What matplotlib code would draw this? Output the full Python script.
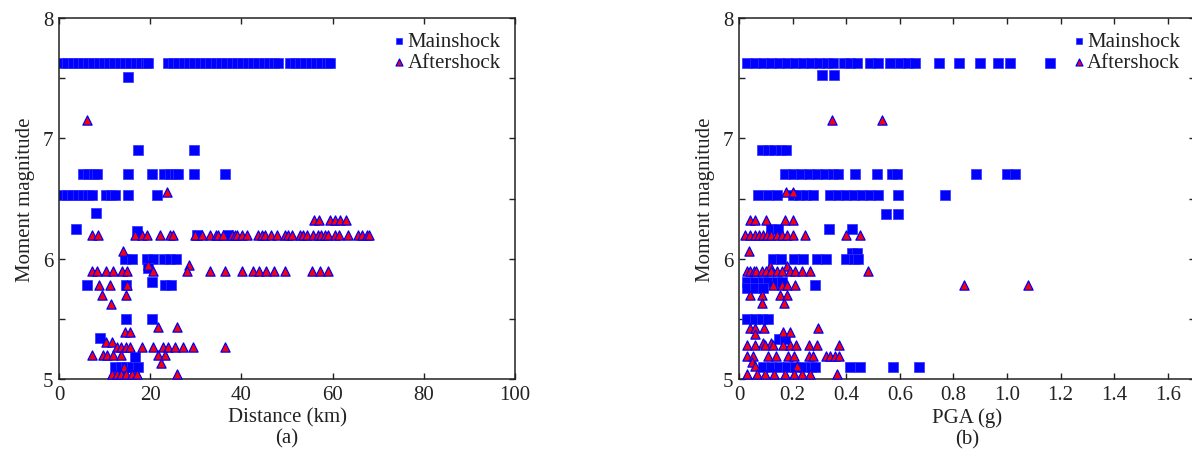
import matplotlib
matplotlib.use("Agg")
import matplotlib.pyplot as plt

plt.rcParams["font.family"] = ["Liberation Serif", "DejaVu Serif"]
plt.rcParams["mathtext.fontset"] = "stix"

# ---------------- (a) magnitude vs. distance ----------------
# mainshock records: magnitude levels and the distances (km) at each level
a_main_mag = [7.63, 7.51, 6.9, 6.7, 6.53, 6.38, 6.25, 6.23, 6.2, 6.0, 5.92,
              5.81, 5.78, 5.5, 5.34, 5.18, 5.1]
a_main_dist = [
    [0.6, 1.8, 3.0, 4.1, 5.3, 6.4, 7.5, 8.7, 9.8, 11.0, 12.1, 13.3, 14.4,
     15.6, 16.8, 17.9, 19.1, 19.6, 23.8, 25.0, 26.2, 27.4, 28.5, 29.7, 30.9,
     32.0, 33.2, 34.4, 35.5, 36.7, 37.9, 39.0, 40.2, 41.4, 42.5, 43.7, 44.9,
     46.0, 47.2, 48.0, 50.6, 51.7, 52.9, 54.0, 55.2, 56.4, 57.5, 58.7, 59.4],
    [15.1],
    [17.4, 29.7],
    [5.2, 6.4, 7.6, 8.3, 15.2, 20.3, 23.1, 24.4, 25.5, 26.2, 29.7, 36.3],
    [0.5, 1.7, 2.9, 4.1, 5.3, 6.4, 7.3, 10.4, 11.4, 12.2, 15.1, 21.5],
    [8.1],
    [3.7],
    [17.1],
    [30.2, 37.1],
    [14.5, 16.1, 19.3, 20.6, 23.1, 24.4, 25.6],
    [19.6],
    [20.3],
    [6.1, 14.8, 23.3, 24.6],
    [14.7, 20.5],
    [9.0],
    [16.7],
    [12.2, 13.5, 14.8, 16.1, 17.4],
]

# aftershock records
a_after_mag = [7.15, 6.55, 6.32, 6.2, 6.06, 5.95, 5.9, 5.78, 5.7, 5.62, 5.43,
               5.39, 5.31, 5.27, 5.2, 5.13, 5.1, 5.04]
a_after_dist = [
    [6.2],
    [23.6],
    [56.0, 57.0, 59.4, 60.5, 61.6, 62.9],
    [7.2, 8.6, 16.7, 18.1, 19.4, 22.1, 24.3, 25.1, 29.8, 31.3, 33.1, 34.4,
     34.9, 36.0, 37.9, 38.5, 39.0, 40.1, 41.2, 43.7, 44.5, 45.2, 46.5, 47.7,
     49.6, 50.3, 51.0, 52.9, 53.6, 54.3, 55.8, 56.9, 57.5, 58.3, 59.0, 60.5,
     61.5, 63.3, 65.6, 66.5, 67.5, 68.0],
    [14.0],
    [19.6, 28.4],
    [7.2, 8.3, 10.2, 11.9, 13.8, 14.9, 20.7, 28.0, 33.2, 36.5, 40.1, 42.5,
     43.9, 45.5, 47.1, 49.6, 55.4, 57.2, 59.1],
    [8.8, 11.2, 14.9],
    [9.4, 14.6],
    [11.4],
    [21.8, 25.8],
    [14.5, 15.6],
    [10.4, 11.7],
    [12.7, 13.5, 14.8, 15.6, 18.1, 20.7, 22.9, 23.8, 25.4, 27.1, 29.4, 36.4],
    [7.2, 9.7, 10.6, 11.9, 13.7, 21.8, 23.2],
    [22.4],
    [14.3],
    [11.6, 12.7, 13.7, 14.8, 15.9, 17.0, 25.8],
]

# ---------------- (b) magnitude vs. PGA ----------------
b_main_mag = [7.63, 7.53, 6.9, 6.7, 6.53, 6.375, 6.25, 6.05, 6.0, 5.81, 5.78,
              5.76, 5.5, 5.33, 5.1]
b_main_pga = [
    [0.03, 0.06, 0.09, 0.12, 0.15, 0.18, 0.21, 0.24, 0.27, 0.30, 0.33, 0.35,
     0.39, 0.415, 0.44, 0.49, 0.52, 0.565, 0.60, 0.63, 0.655, 0.745, 0.82,
     0.90, 0.965, 1.01, 1.16],
    [0.31, 0.355],
    [0.086, 0.11, 0.13, 0.155, 0.175],
    [0.17, 0.20, 0.23, 0.26, 0.29, 0.32, 0.35, 0.37, 0.433, 0.515, 0.57,
     0.59, 0.885, 1.0, 1.03],
    [0.072, 0.11, 0.14, 0.20, 0.225, 0.25, 0.275, 0.34, 0.37, 0.40, 0.43,
     0.46, 0.49, 0.52, 0.594, 0.77],
    [0.55, 0.595],
    [0.12, 0.145, 0.337, 0.42],
    [0.42, 0.44],
    [0.125, 0.155, 0.205, 0.24, 0.29, 0.325, 0.40, 0.43, 0.445],
    [0.03, 0.06, 0.09, 0.11, 0.14, 0.16],
    [0.284],
    [0.03, 0.06, 0.09],
    [0.03, 0.06, 0.085, 0.11],
    [0.15, 0.17],
    [0.09, 0.12, 0.15, 0.18, 0.21, 0.24, 0.27, 0.285, 0.414, 0.45, 0.576,
     0.672],
]

b_after_mag = [7.15, 6.55, 6.32, 6.2, 6.06, 5.94, 5.9, 5.78, 5.7, 5.63, 5.42,
               5.39, 5.375, 5.3, 5.28, 5.19, 5.14, 5.11, 5.04]
b_after_pga = [
    [0.346, 0.532],
    [0.175, 0.20],
    [0.041, 0.06, 0.10, 0.17, 0.20],
    [0.022, 0.041, 0.06, 0.075, 0.09, 0.105, 0.12, 0.14, 0.16, 0.18, 0.20,
     0.246, 0.40, 0.45],
    [0.037],
    [0.115, 0.18],
    [0.03, 0.04, 0.055, 0.065, 0.085, 0.10, 0.12, 0.14, 0.16, 0.19, 0.21,
     0.235, 0.265, 0.48],
    [0.128, 0.16, 0.18, 0.21, 0.84, 1.08],
    [0.04, 0.085, 0.153, 0.178],
    [0.087, 0.169],
    [0.04, 0.06, 0.095, 0.296],
    [0.165, 0.19],
    [0.06],
    [0.09, 0.12],
    [0.03, 0.06, 0.097, 0.128, 0.165, 0.19, 0.213, 0.26, 0.29, 0.374],
    [0.03, 0.053, 0.107, 0.137, 0.182, 0.206, 0.26, 0.277, 0.323, 0.34,
     0.358, 0.373],
    [0.047],
    [0.06, 0.215],
    [0.03, 0.066, 0.098, 0.132, 0.172, 0.205, 0.236, 0.264, 0.365],
]

y_ticks = [5, 5.5, 6, 6.5, 7, 7.5, 8]
y_tick_labels = ["5", "", "6", "", "7", "", "8"]
a_x_ticks = [0, 20, 40, 60, 80, 100]
b_x_ticks = [0, 0.2, 0.4, 0.6, 0.8, 1.0, 1.2, 1.4, 1.6]
b_x_tick_labels = ["0", "0.2", "0.4", "0.6", "0.8", "1.0", "1.2", "1.4", "1.6"]


def flatten(levels, groups):
    xs, ys = [], []
    for m, vals in zip(levels, groups):
        for v in vals:
            xs.append(v)
            ys.append(m)
    return xs, ys


BLUE = "#0000ff"
RED = "#ff0000"
INK = "#222222"
FS = 15


def draw(ax, main_x, main_y, after_x, after_y):
    ax.scatter(main_x, main_y, marker="s", s=44, facecolor=BLUE,
               edgecolor="#3030ff", linewidths=0.5, label="Mainshock", zorder=2)
    ax.scatter(after_x, after_y, marker="^", s=44, facecolor=RED,
               edgecolor=BLUE, linewidths=0.9, label="Aftershock", zorder=3)
    ax.set_ylim(5, 8)
    ax.set_yticks(y_ticks)
    ax.set_yticklabels(y_tick_labels)
    ax.set_ylabel("Moment magnitude", fontsize=FS, labelpad=6, color=INK)
    ax.tick_params(direction="in", top=True, right=True, length=4.5,
                   width=1.0, labelsize=FS, pad=4, colors=INK)
    for sp in ax.spines.values():
        sp.set_linewidth(1.1)
        sp.set_color(INK)
    leg = ax.legend(loc="upper right", frameon=False, fontsize=FS,
                    handlelength=0.6, handletextpad=0.1, labelspacing=0.08,
                    borderaxespad=0.25, markerscale=0.75,
                    bbox_to_anchor=(0.998, 1.0))
    for t in leg.get_texts():
        t.set_color(INK)


fig = plt.figure(figsize=(11.92, 4.52), dpi=100)
ax_a = fig.add_axes([59 / 1192, 72 / 452, 456 / 1192, 361 / 452])
ax_b = fig.add_axes([739 / 1192, 72 / 452, 455.6 / 1192, 361 / 452])

mx, my = flatten(a_main_mag, a_main_dist)
ax_, ay = flatten(a_after_mag, a_after_dist)
draw(ax_a, mx, my, ax_, ay)
ax_a.set_xlim(0, 100)
ax_a.set_xticks(a_x_ticks)
ax_a.set_xlabel("Distance (km)\n(a)", fontsize=FS, labelpad=3,
                linespacing=1.1, color=INK)

mx, my = flatten(b_main_mag, b_main_pga)
bx, by = flatten(b_after_mag, b_after_pga)
draw(ax_b, mx, my, bx, by)
ax_b.set_xlim(0, 1.7)
ax_b.set_xticks(b_x_ticks)
ax_b.set_xticklabels(b_x_tick_labels)
ax_b.set_xlabel("PGA (g)\n(b)", fontsize=FS, labelpad=3, linespacing=1.1,
                color=INK)

fig.savefig("out.png", dpi=100)
